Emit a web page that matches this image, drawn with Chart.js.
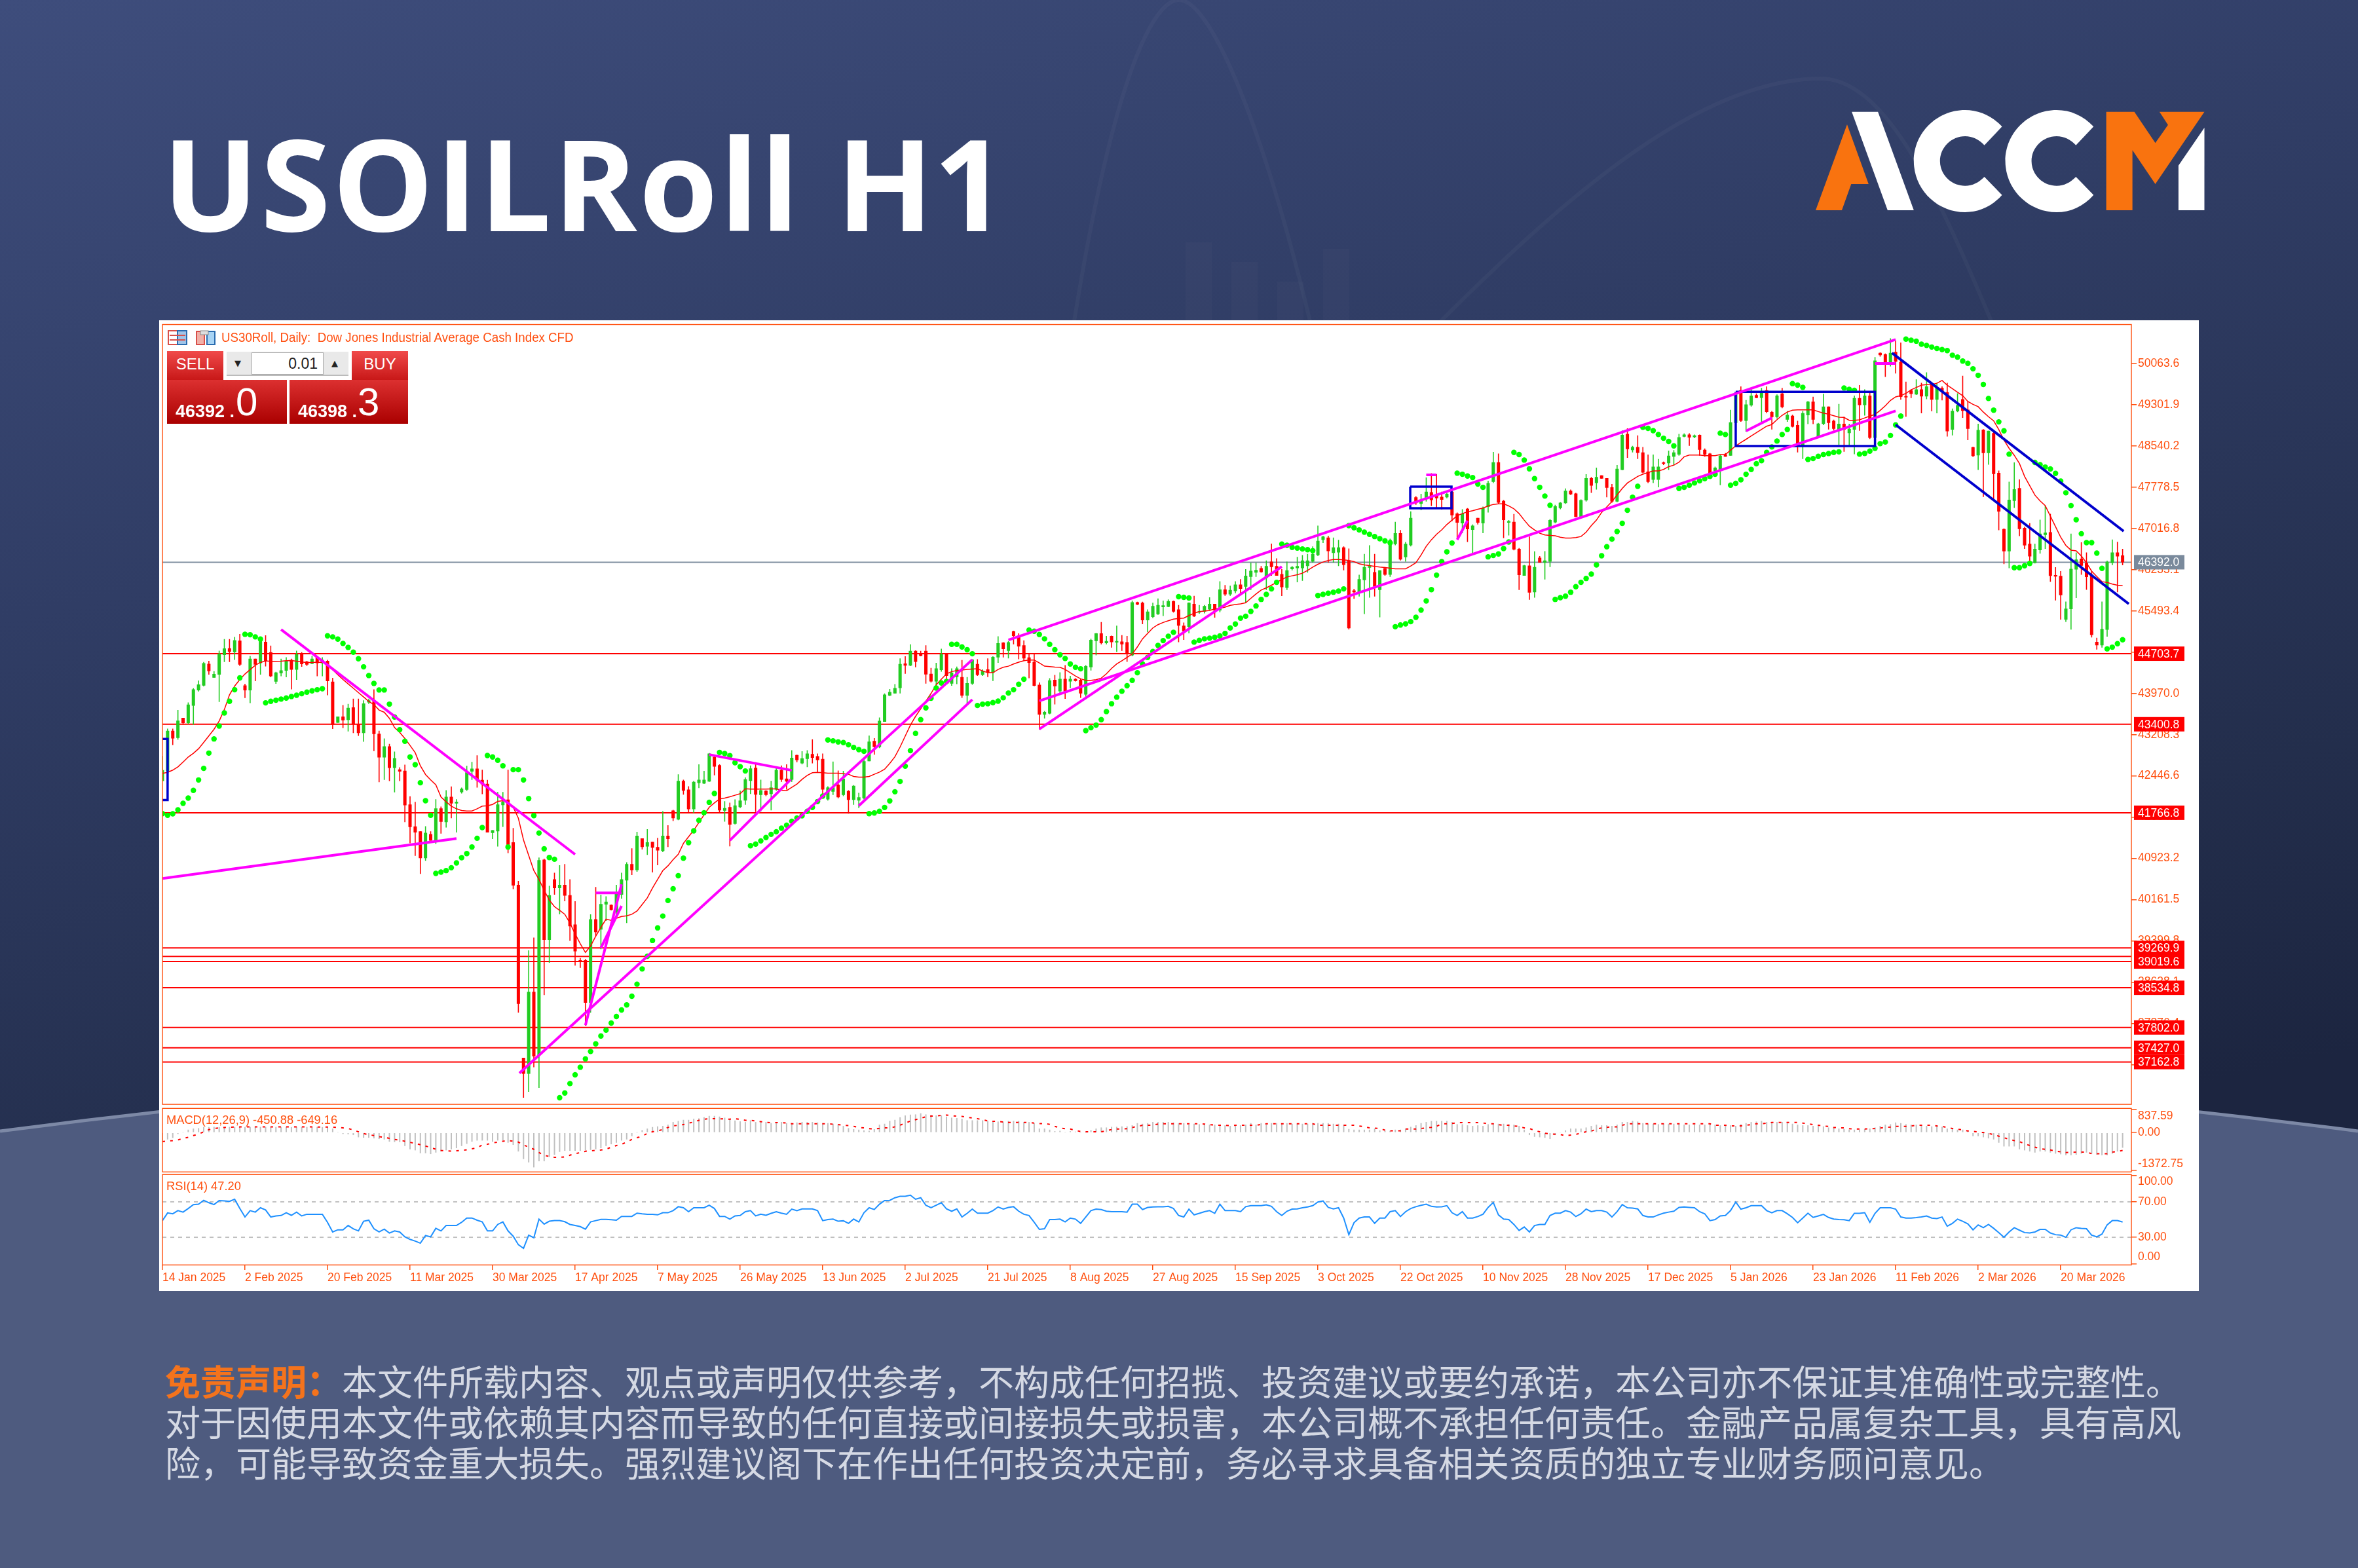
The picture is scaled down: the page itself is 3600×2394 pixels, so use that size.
<!DOCTYPE html>
<html>
<head>
<meta charset="utf-8">
<title>USOILRoll H1</title>
<script src="https://cdn.jsdelivr.net/npm/chart.js@4"></script>
<style>
  html, body { margin: 0; padding: 0; }
  #page { position: relative; width: 3600px; height: 2394px; overflow: hidden;
    background: linear-gradient(168deg, #3e4d7c 0%, #303d65 30%, #232e4c 60%, #1c2540 75%); }
  #page > * { position: absolute; }
  #title { left: 248px; top: 148px; color: #fff; font: 700 194px "Open Sans", sans-serif; letter-spacing: 3px; white-space: nowrap; line-height: 260px; }
  #title span { letter-spacing: 0; }
  #panel { left: 243px; top: 489px; width: 3114px; height: 1482px; background: #fff; }
  canvas { position: absolute; left: 243px; display: block; }
  .note { left: 252px; color: #d5d9e4; font: 54px/62px "Noto Sans CJK SC", sans-serif; white-space: nowrap; }
  .note b { color: #f4731c; font-weight: 700; }
  .red { color: #fff; background: linear-gradient(#f04a4a, #c81818); font-family: "Liberation Sans Narrow", "Liberation Sans", sans-serif; }
  .deep { background: linear-gradient(#dc3030, #aa0000); color: #fff; font-family: "Liberation Sans Narrow", "Liberation Sans", sans-serif; }
  .tab { text-align: center; font-size: 24px; line-height: 40px; box-sizing: border-box; }
  .small { position: absolute; left: 13px; top: 33px; font-size: 27px; font-weight: 700; }
  .big { position: absolute; left: 75px; top: 0px; font-size: 60px; line-height: 68px; }
  #chartTitle { left: 338px; top: 504px; color: #ff4f10; font: 19.5px/22px "Liberation Sans Narrow", "Liberation Sans", sans-serif; white-space: nowrap; transform: scaleX(0.96); transform-origin: left; }
</style>
</head>
<body>
<div id="page">
  <svg style="left:0;top:0" width="3600" height="490" fill="none" stroke="#ffffff" stroke-opacity="0.03" stroke-width="6">
    <path d="M1640,490 C1700,120 1760,0 1800,0 C1850,0 1930,200 2000,490"/>
    <path d="M2200,490 C2400,290 2600,120 2780,120 C2880,120 2960,300 3040,490"/>
    <path fill="#ffffff" fill-opacity="0.02" stroke="none" d="M1810,490V370H1850V490ZM1880,490V400H1920V490ZM1950,490V430H1990V490ZM2020,490V380H2060V490Z"/>
  </svg>
  <svg style="left:0;top:1680px" width="3600" height="714"><path d="M0,47 Q1800,-187 3600,47 L3600,714 L0,714 Z" fill="#4e5b7f"/><path d="M0,47 Q1800,-187 3600,47" fill="none" stroke="#7d89a6" stroke-width="5"/></svg>
  <div id="title">USOILRoll <span>H</span>1</div>
  <svg style="left:2740px;top:140px" width="660" height="210" viewBox="0 0 1568 630" preserveAspectRatio="none">
    <path fill="#f9730f" d="M190,150 L268,423 L205,423 L171,543 L76,543 Z"/>
    <path fill="#fff" d="M207,92 L302,92 L432,543 L337,543 Z"/>
    <path id="logoC" fill="#fff" d="M752,160 C715,110 668,84 618,84 C515,84 432,190 432,318 C432,446 515,552 618,552 C668,552 715,526 752,473 L688,390 C668,416 645,431 618,431 C568,431 527,380 527,318 C527,256 568,204 618,204 C645,204 668,219 688,245 Z"/>
    <use href="#logoC" x="332"/>
    <path fill="#f9730f" d="M1130,92 L1232,92 L1308,235 L1354,152 L1323,92 L1486,92 L1308,423 L1225,268 L1225,543 L1130,543 Z"/>
    <path fill="#fff" d="M1486,165 L1486,543 L1392,543 L1392,338 Z"/>
  </svg>
  <div id="panel"></div>
  <canvas id="mainChart" style="top:491px" width="3114" height="1199"></canvas>
  <canvas id="macdChart" style="top:1690px" width="3114" height="101"></canvas>
  <canvas id="rsiChart" style="top:1791px" width="3114" height="180"></canvas>
  <!-- terminal widgets in the corner of the chart -->
  <svg style="left:256px;top:504px" width="74" height="24">
    <rect x="1" y="1" width="28" height="21" fill="#fff" stroke="#d8504a" stroke-width="2"/><rect x="15" y="1" width="14" height="21" fill="#9fc4e8" stroke="#2a6cb0" stroke-width="2"/>
    <path d="M3,8H27M3,15H27" stroke="#d8504a" stroke-width="2"/>
    <rect x="44" y="2" width="12" height="20" fill="#f0b0a8" stroke="#d8504a" stroke-width="2"/><rect x="60" y="2" width="12" height="20" fill="#a8d4f4" stroke="#2a6cb0" stroke-width="2"/><rect x="50" y="1" width="12" height="6" fill="#ddd" stroke="#888"/>
  </svg>
  <div id="chartTitle">US30Roll, Daily:&nbsp; Dow Jones Industrial Average Cash Index CFD</div>
  <div class="red tab" style="left:255px;top:536px;width:86px;height:44px">SELL</div>
  <div class="red tab" style="left:537px;top:536px;width:86px;height:44px">BUY</div>
  <div style="left:346px;top:537px;width:186px;height:37px;background:#e9e9e9;border-bottom:2px solid #bbb;box-sizing:border-box"></div>
  <div style="left:384px;top:538px;width:110px;height:34px;background:#fff;border:1px solid #aaa;box-sizing:border-box;text-align:right;font:23px/32px 'Liberation Sans Narrow','Liberation Sans',sans-serif;padding-right:8px;color:#222">0.01</div>
  <div style="left:358px;top:548px;color:#222;font:13px/14px 'DejaVu Sans',sans-serif">▼</div>
  <div style="left:506px;top:548px;color:#222;font:13px/14px 'DejaVu Sans',sans-serif">▲</div>
  <div class="deep" style="left:255px;top:580px;width:183px;height:67px"><span class="small">46392 .</span><span class="big" style="left:105px">0</span></div>
  <div class="deep" style="left:442px;top:580px;width:181px;height:67px"><span class="small">46398 .</span><span class="big" style="left:104px">3</span></div>

  <div class="note" style="top:2077px"><b>免责声明&#xFF1A;</b>本文件所载内容、观点或声明仅供参考&#xFF0C;不构成任何招揽、投资建议或要约承诺&#xFF0C;本公司亦不保证其准确性或完整性。</div>
  <div class="note" style="top:2139px">对于因使用本文件或依赖其内容而导致的任何直接或间接损失或损害&#xFF0C;本公司概不承担任何责任。金融产品属复杂工具&#xFF0C;具有高风</div>
  <div class="note" style="top:2201px">险&#xFF0C;可能导致资金重大损失。强烈建议阁下在作出任何投资决定前&#xFF0C;务必寻求具备相关资质的独立专业财务顾问意见。</div>
</div>

<script>
// Daily candles, one value per bar
const opens = [
  42352,42534,43280,43147,43518,43421,43744,44026,44115,44518,44260,44316,44679,44804,44732,44945,44119,44026,44611,44530,
  44921,44732,44187,44340,44389,44590,44409,44703,44558,44518,44631,44530,44570,44187,43429,43542,43481,43711,43401,43239,
  43804,43824,43227,42788,42993,42594,42566,42542,41921,41513,41425,40928,41372,41251,41848,41594,42062,41937,42146,42191,
  42526,42582,42372,42300,41392,41424,41908,42009,41222,40436,37242,36947,38460,37290,40900,39420,40537,40375,40436,40246,
  39702,39045,39045,38258,39799,39609,40073,40065,39932,40254,40517,40819,40706,41295,41142,41230,41134,41061,41343,41807,
  41642,42356,42195,41832,42316,42308,42344,42800,42646,41804,41872,41562,41872,41993,42356,42598,42094,42175,42114,42195,
  42558,42396,42376,42832,42679,42759,42852,42812,42759,42013,42154,42284,42094,42167,42005,41993,42034,42719,43094,42981,
  43445,43929,43969,44070,44522,44482,44756,44703,44756,44332,44191,44401,44703,44151,44272,44272,43929,44151,44514,44312,
  44413,44353,44635,44909,44756,45119,45038,44857,44635,44554,44131,43578,43598,44219,44010,44239,44191,44239,44219,43949,
  44453,44937,45078,44897,45030,44909,44929,44917,44675,45655,45643,45320,45381,45433,45562,45570,45675,45522,45220,45199,
  45623,45462,45482,45522,45623,45502,45890,45800,45860,45980,45940,46121,46202,46283,46101,46404,46323,46174,45920,46263,
  46283,46283,46323,46404,46525,46807,46847,46565,46573,46666,46424,45871,45839,46061,46291,46210,45879,46283,46162,46726,
  46928,46484,46706,47593,47472,47573,47686,47634,47602,47593,47694,47291,47110,47380,46989,47210,47110,47412,47876,48239,
  47525,47122,47138,46638,46142,46331,45839,46476,46384,46404,47130,47392,47484,47714,47662,47230,47533,47944,47856,47997,
  47944,47775,47513,48098,48763,48461,48521,48420,48065,47916,47916,48227,48219,48340,48380,48711,48751,48702,48743,48469,
  48400,48077,48098,48380,48360,48965,49570,49005,49287,49477,49428,49570,49166,49074,49509,49025,49098,48924,48541,49106,
  49356,48703,48945,49267,49005,48841,48949,48776,48841,49424,49295,49468,48690,50258,50232,50072,50275,50094,49446,49567,
  49489,49584,49455,49697,49394,49610,49532,48841,49178,49403,49208,48517,48366,48841,48409,48776,48042,47005,46595,47524,
  47761,47027,46733,46379,46616,46897,46949,46154,46141,45333,45528,46258,46457,46379,46163,44923,44858,45147,46379,46573,46517
];
const highs = [
  42816,43320,43320,43663,43518,43804,44066,44207,44550,44570,44381,44760,44974,44974,45014,45066,44147,44663,44611,45014,
  45042,44853,44369,44611,44639,44611,44760,44732,44570,44663,44631,44639,44590,44256,43542,43756,43776,43873,43873,43844,
  43873,44046,43280,43139,43038,42897,42606,42655,42070,41969,41425,41517,41425,42017,41880,42183,42251,42017,42231,42634,
  42707,42828,42562,42372,41444,42150,42150,42562,41485,40509,37242,39226,39460,40940,40920,40416,40658,40799,40819,40537,
  40133,39085,39065,39892,40396,40255,40222,40073,40436,40658,40851,41110,41416,41295,41464,41230,41303,41795,41537,41819,
  42477,42376,42255,42356,42659,42538,42868,42840,42659,41981,41953,42013,42175,42417,42638,42699,42376,42183,42356,42598,
  42638,42659,42921,42840,42901,42921,43122,42860,42860,42255,42711,42546,42538,42183,42275,42134,42747,43191,43143,43526,
  43969,44050,44143,44615,44655,44877,44764,44756,44857,44441,44534,44796,44703,44433,44465,44586,44272,44602,44602,44413,
  44615,44655,45026,44917,44937,45127,45078,44949,44715,44695,44171,43647,44252,44312,44361,44494,44292,44252,44239,44494,
  44978,45086,45288,45030,45038,45220,45046,45030,45683,45663,45663,45522,45643,45724,45683,45704,45683,45603,45280,45651,
  45772,45603,45603,45744,45623,46040,45970,45960,46040,46080,46263,46384,46384,46323,46424,46735,46464,46263,46404,46323,
  46492,46525,46545,46686,47069,46880,46880,46847,46807,46686,46646,45900,46162,46545,46706,46545,46242,46303,46827,47138,
  46988,46767,47331,47614,47654,47956,48037,48017,47694,47674,47702,47311,47372,47392,47089,47210,47420,47896,48428,48400,
  47541,47170,47283,46654,46343,46867,46593,46505,46597,47190,47452,47501,47755,47735,47674,47553,48017,47968,48138,47997,
  47944,47835,48186,48824,48864,48541,48735,48521,48380,48380,48299,48251,48452,48461,48763,48771,48775,48751,48751,48493,
  48412,48158,48380,48408,49207,49529,49638,49388,49590,49509,49610,49638,49186,49489,49610,49186,49114,49005,49186,49368,
  49449,48965,49501,49267,49025,49316,49079,48949,49468,49662,49584,49532,50180,50267,50245,50526,50483,50448,49727,49584,
  49770,49705,49900,49705,49705,49640,49705,49230,49511,49835,49360,48526,48949,48850,48820,48820,48085,47018,47878,48236,
  47921,47048,47113,46733,47178,47437,47286,46301,46228,45666,46919,46573,46759,46573,46228,44996,45666,46422,46811,46768,46638
];
const lows = [
  42352,42493,43018,43118,43393,43401,43393,44006,44098,44316,44260,43812,44550,44550,44590,44478,43885,43792,44195,44316,
  44469,44268,44147,44288,44268,44046,44219,44461,44478,44510,44288,44288,43937,43312,43429,43332,43268,43239,43187,43078,
  43776,42905,42332,42372,42352,42142,42352,41594,41203,40969,40638,40880,41251,41190,41380,41493,41667,41404,42122,42171,
  42372,42231,42110,41404,41283,41142,41505,41021,40355,38077,36504,36613,37068,36685,38399,38996,40254,39892,40133,39400,
  38944,38903,37835,38077,39488,39246,39770,39964,39851,40182,39730,40617,40678,41089,40989,40666,40799,41041,41134,41614,
  41630,42102,41771,41763,42223,42296,42336,42457,41763,41602,41146,41550,41852,41913,42114,41779,41791,42074,41812,42175,
  42336,42195,42336,42699,42659,42610,42679,42517,42074,41993,42094,42034,42074,41751,41913,41852,42013,42719,42840,42961,
  43445,43921,43969,43969,44332,44473,44453,44655,44151,44171,44030,44373,44151,44111,44143,43889,43788,44131,44292,44292,
  44272,44199,44534,44635,44615,44877,44602,44574,44252,44102,43304,43506,43586,43768,43949,43869,44070,44191,43889,43909,
  44393,44675,44877,44877,44816,44736,44756,44554,44655,45603,45248,45099,45361,45421,45401,45562,45462,44917,44957,45078,
  45381,45441,45449,45502,45369,45470,45770,45770,45820,45820,45637,45879,46121,46202,45879,46142,46142,45767,45879,46242,
  46021,46049,46202,46384,46505,46747,46384,46384,46323,46242,45153,45718,45758,45436,45738,45758,45375,46142,46121,46706,
  46424,46404,46686,47452,47352,47513,47432,47380,47364,47573,47150,46827,46928,46767,46533,47089,46928,47311,47856,47472,
  46839,46888,46613,45879,46142,45698,45738,46384,46073,46303,47110,47372,47472,47634,47230,47230,47513,47674,47735,47936,
  47593,47493,47501,48090,48319,48420,48299,48037,47856,47856,47775,48186,48098,48178,48360,48702,48541,48682,48360,48340,
  48017,48057,47815,48340,48360,48945,48985,48803,49267,49420,48985,49146,48844,49045,49235,48985,48884,48420,48299,48944,
  48944,48682,48924,48844,48824,48560,48431,48539,48388,48820,49100,48668,48668,50189,49813,50008,49878,49394,49079,49424,
  49480,49144,49403,49178,49144,49381,48712,48733,49165,49057,48647,48336,48098,47597,48193,47545,46984,46357,46283,47394,
  46876,46638,46422,46370,46552,46638,46033,45688,45333,45290,45148,45731,46163,45882,45005,44780,44815,45018,46336,45839,46336
];
const closes = [
  42554,43280,43139,43469,43421,43764,44046,44135,44530,44381,44328,44703,44800,44740,44953,44502,44026,44611,44502,44994,
  44558,44288,44357,44397,44570,44409,44691,44510,44502,44611,44530,44590,44195,43389,43542,43473,43703,43393,43239,43784,
  43844,43219,42788,42993,42594,42776,42526,41904,41501,41404,40928,41396,41251,41848,41598,42062,41937,41969,42211,42513,
  42582,42364,42292,41404,41444,41920,41968,41122,40424,38238,36947,38460,37270,40892,39420,40246,40375,40436,40234,39670,
  39206,39020,38258,39799,39561,40081,40125,39972,40275,40537,40819,40706,41343,41134,41222,41122,41069,41343,41283,41666,
  42356,42175,41832,42336,42376,42376,42860,42618,41812,41852,41549,41900,41993,42384,42586,42102,42183,42094,42235,42558,
  42376,42344,42780,42739,42772,42860,42780,42739,42195,42235,42235,42054,42396,42005,42263,42054,42719,43082,42981,43465,
  43949,43998,44070,44514,44482,44756,44554,44663,44320,44191,44433,44695,44292,44353,44433,43929,44159,44594,44312,44385,
  44353,44643,44897,44788,44917,45030,44836,44615,44534,44111,43578,43627,44211,44102,44239,44010,44239,44199,43969,44473,
  44957,45078,44897,44937,44917,44937,44877,44695,45655,45611,45320,45482,45583,45603,45595,45675,45482,45220,45119,45643,
  45393,45482,45583,45623,45502,45890,45800,45880,45980,45900,46142,46234,46250,46210,46323,46303,46142,45932,46242,46303,
  46323,46424,46424,46545,46787,46867,46597,46666,46666,46343,45174,45839,46081,46303,46323,45940,46242,46162,46807,46928,
  46444,46734,47210,47484,47533,47694,47541,47573,47545,47654,47259,47122,47291,47001,47069,47122,47392,47856,48239,47493,
  47170,47150,46626,46154,46335,45831,46303,46384,46424,47170,47424,47493,47714,47646,47230,47541,47944,47807,47968,47936,
  47767,47513,48118,48743,48481,48521,48412,48049,47876,48158,48158,48210,48360,48420,48702,48751,48694,48735,48469,48380,
  48037,48138,48360,48340,48977,49489,49005,49307,49469,49428,49549,49166,49074,49469,49259,49114,48896,48541,49146,49356,
  49025,48953,49267,48965,48856,48949,48841,48854,49424,49295,49468,48690,50116,50215,50059,50258,50094,49446,49437,49498,
  49584,49455,49640,49394,49619,49554,48811,49187,49295,49187,48854,48353,48833,48409,48820,48020,47329,46595,47545,47740,
  47005,46703,46500,46638,46919,46940,46141,46128,45783,45536,46271,46444,46327,46120,45048,44858,45160,46400,46573,46500,46392
];
// Parabolic SAR dots
const sar = [
  41750,41719,41747,41820,41941,42037,42179,42372,42586,42868,43130,43368,43610,43824,44038,44256,45062,45054,45014,44974,
  43796,43824,43844,43865,43885,43913,43937,43965,43993,44018,44038,44058,45034,45014,44974,44893,44820,44732,44611,44461,
  44300,44155,44034,44034,43772,43534,43300,43086,42796,42654,42320,41989,41719,40646,40670,40699,40751,40840,40937,41013,
  41134,41295,41493,42824,42796,42735,42634,41134,42562,42562,42372,42029,41714,41392,41101,40940,40908,36504,36593,36766,
  36927,37068,37222,37359,37500,37645,37754,37883,38004,38125,38218,38379,38601,38883,39117,39408,39641,39859,40146,40363,
  40605,40928,41214,41432,41626,41767,41960,42122,42880,42860,42820,42691,42618,42538,41158,41187,41247,41308,41368,41416,
  41481,41537,41610,41670,41711,41792,41864,41973,42074,43110,43094,43074,43062,43022,42973,42933,42901,41751,41763,41792,
  41864,41985,42154,42344,42626,42913,43231,43485,43703,43881,44070,44163,44191,44877,44877,44828,44776,44703,43747,43772,
  43780,43800,43828,43889,43977,44038,44139,44232,45139,45119,45058,44978,44877,44776,44683,44615,44514,44453,44425,43284,
  43336,43385,43485,43635,43780,43901,44010,44111,44211,44352,44514,44635,44744,44857,44945,45026,45099,45756,45744,45732,
  44917,44949,44978,44990,45006,45030,45078,45179,45252,45361,45395,45484,45585,45706,45799,45900,46021,46726,46706,46666,
  46654,46638,46625,46605,45778,45799,45819,45839,45859,45900,47069,47029,46989,46948,46908,46867,46827,46787,46750,45202,
  45234,45254,45295,45375,45508,45678,45887,46154,46404,46585,46747,48037,48017,47985,47956,47835,47775,46492,46517,46545,
  46646,46767,48420,48380,48279,48118,47936,47775,47614,47444,45706,45738,45766,45839,45940,46021,46093,46174,46343,46513,
  46678,46819,46960,47110,47351,47593,47795,48884,48864,48823,48751,48682,48622,48541,47755,47775,47815,47856,47896,47936,
  47977,48017,48775,48751,47815,47848,47916,48017,48106,48211,48267,48420,48521,48630,48751,48844,49691,49662,49622,48291,
  48307,48348,48380,48400,48420,48431,49610,49584,49567,48388,48401,48444,48496,48582,48612,48733,48928,49092,50513,50491,
  50474,50418,50396,50366,50340,50319,50301,50215,50180,50107,50064,49964,49843,49675,49416,49200,48984,48820,48388,46292,
  46292,46327,46370,48236,48193,48150,48115,48033,47891,47675,47437,47178,46919,46755,46755,46560,46279,44793,44824,44888,44962
];
// Moving average (thin red line)
const movingAvg = [
  42493,42513,42554,42614,42703,42796,42864,42949,43066,43187,43308,43461,43671,43945,44106,44227,44328,44409,44490,44542,
  44570,44562,44562,44566,44574,44578,44566,44550,44542,44542,44546,44542,44518,44409,44316,44227,44147,44066,43985,43905,
  43824,43764,43663,43622,43510,43340,43251,43139,43010,42876,42634,42473,42372,42284,42058,41969,41888,41840,41808,41800,
  41800,41840,41888,41896,41920,41977,41989,41969,41868,41666,41263,40980,40698,40537,40335,40154,40033,39964,39892,39730,
  39529,39347,39186,39307,39488,39649,39803,39779,39819,39851,39863,39892,39952,40073,40194,40375,40537,40698,40787,40900,
  41001,41202,41323,41444,41585,41727,41868,41948,42021,42037,42061,42090,42118,42211,42203,42203,42203,42203,42207,42207,
  42183,42175,42235,42296,42384,42457,42505,42513,42505,42497,42497,42497,42489,42477,42437,42425,42425,42437,42477,42517,
  42570,42679,42800,42981,43183,43385,43546,43687,43828,43969,44131,44232,44332,44373,44393,44401,44413,44421,44425,44385,
  44352,44352,44413,44453,44473,44514,44546,44574,44586,44586,44534,44473,44465,44457,44453,44413,44352,44292,44240,44211,
  44211,44223,44252,44332,44433,44514,44574,44635,44695,44828,44978,45078,45179,45240,45280,45312,45341,45353,45361,45409,
  45449,45482,45490,45502,45530,45542,45562,45595,45611,45623,45645,45726,45807,45879,45920,45968,46021,46073,46121,46142,
  46162,46190,46242,46303,46355,46396,46424,46444,46444,46436,46424,46404,46363,46343,46331,46315,46303,46295,46283,46271,
  46271,46271,46323,46384,46525,46686,46807,46908,46989,47089,47170,47251,47291,47323,47343,47372,47392,47432,47460,47472,
  47472,47432,47380,47291,47170,47057,46989,46928,46896,46888,46880,46855,46839,46839,46847,46867,46948,47069,47170,47311,
  47412,47513,47634,47755,47856,47916,47977,48017,48049,48077,48077,48106,48158,48186,48239,48340,48372,48372,48372,48360,
  48360,48360,48380,48380,48461,48541,48602,48662,48723,48783,48844,48904,48936,49025,49106,49166,49199,49207,49207,49207,
  49207,49174,49146,49126,49098,49070,49066,49014,49014,49023,49057,49092,49122,49195,49282,49381,49446,49468,49511,49576,
  49619,49662,49671,49675,49697,49748,49662,49597,49532,49468,49360,49308,49265,49165,49079,49005,48841,48647,48496,48366,
  48215,47977,47804,47632,47524,47437,47243,47048,46854,46703,46616,46603,46508,46379,46228,46128,46033,46020,45990,45968,45960
];
// MACD histogram and signal line
const macdHist = [
  -289,-249,-194,-51,28,107,147,162,202,202,210,202,205,208,205,202,200,205,210,208,
  205,202,205,208,205,202,205,208,205,202,205,202,200,147,28,-51,-59,-91,-170,-186,
  -186,-210,-234,-249,-329,-345,-345,-487,-606,-645,-748,-748,-780,-725,-685,-645,-606,-566,-487,-408,
  -329,-289,-289,-289,-329,-289,-289,-368,-447,-685,-962,-1081,-1263,-1041,-1041,-883,-804,-701,-661,-661,
  -661,-661,-645,-630,-606,-566,-487,-424,-368,-289,-249,-131,4,91,147,202,226,242,289,384,
  424,463,463,503,519,558,606,606,582,540,500,440,408,384,447,384,384,384,345,384,
  384,345,345,368,384,384,384,368,345,345,321,289,242,162,123,107,83,67,123,289,
  321,424,463,558,622,653,661,701,661,638,622,622,582,542,527,503,447,447,447,447,
  424,424,400,400,424,424,424,384,384,345,147,147,107,51,67,28,51,36,4,-12,
  91,147,186,186,210,210,226,226,265,345,321,345,384,384,384,384,368,345,345,289,
  321,305,289,289,289,265,265,242,242,265,289,345,289,345,305,345,345,321,345,321,
  321,321,321,345,345,345,345,321,321,289,131,107,107,107,107,147,83,67,67,107,
  107,147,210,265,345,384,424,424,424,424,384,305,305,265,242,265,242,305,321,321,
  321,305,289,242,107,-91,-154,-170,-186,-234,-91,-12,83,147,147,147,186,242,289,265,
  265,242,289,384,384,424,400,345,321,321,305,321,321,321,321,289,289,289,289,289,
  305,289,265,242,265,242,305,345,384,400,424,384,368,384,384,345,321,289,265,265,
  242,242,226,186,186,147,131,107,107,107,131,147,186,242,289,305,368,345,305,289,
  289,265,242,226,226,210,147,147,107,107,67,-131,-131,-170,-210,-249,-368,-503,-503,-503,
  -606,-645,-685,-725,-685,-685,-725,-764,-788,-820,-820,-804,-764,-725,-764,-804,-820,-820,-764,-685,-550
];
const macdSignal = [
  -329,-305,-289,-266,-210,-170,-107,-51,28,107,147,170,186,194,202,205,205,205,205,205,
  205,205,205,205,205,205,205,205,205,205,205,202,200,194,186,170,147,99,28,-36,
  -75,-107,-147,-170,-210,-249,-273,-313,-352,-392,-440,-487,-543,-606,-645,-661,-669,-661,-645,-622,
  -590,-550,-447,-424,-376,-345,-313,-289,-313,-345,-447,-527,-606,-725,-820,-867,-899,-899,-883,-820,
  -764,-725,-677,-661,-645,-630,-606,-527,-471,-424,-345,-249,-186,-131,-28,28,67,107,186,242,
  265,289,345,384,447,487,503,503,503,495,487,503,480,447,447,420,400,372,360,360,
  360,345,321,321,321,321,321,321,321,321,305,289,265,255,226,190,170,140,131,150,
  170,170,210,270,340,420,470,520,575,598,598,630,638,610,598,590,558,530,503,470,
  420,408,408,385,368,368,368,368,368,345,329,329,300,226,170,140,131,80,40,28,
  28,28,28,70,110,131,131,140,185,226,265,265,265,310,321,321,321,321,321,321,
  321,321,310,289,275,265,265,255,265,265,265,265,265,300,321,321,321,321,321,321,
  321,321,321,321,265,265,265,265,265,265,265,265,240,210,170,160,147,90,67,67,
  67,131,131,131,150,170,190,226,321,321,330,360,360,360,360,360,350,321,321,290,
  265,265,240,226,170,147,80,28,-20,-51,-60,-67,-115,-90,-67,-12,30,51,131,170,
  190,210,210,265,321,321,321,321,321,321,321,321,321,321,321,321,321,321,321,321,
  321,265,265,265,242,242,242,265,289,321,321,345,368,368,368,368,368,368,345,321,
  289,265,240,226,186,175,170,140,131,131,131,140,147,165,186,200,226,226,226,240,
  265,265,265,265,242,226,180,150,120,100,60,44,20,4,-30,-70,-130,-186,-240,-290,
  -329,-400,-470,-527,-582,-610,-630,-669,-700,-725,-715,-709,-709,-709,-764,-764,-764,-764,-709,-680,-649
];
const rsi = [
  48.8,57.5,56.5,60.1,58.4,62.5,66.9,67.3,71.7,69.0,66.9,71.4,71.0,70.5,72.9,62.5,52.9,60.1,58.4,63.3,
  60.8,52.9,54.1,54.6,57.7,54.8,58.4,54.1,56.0,56.0,56.0,56.0,46.9,36.0,38.4,38.4,43.3,39.6,37.2,48.1,
  49.3,39.6,36.0,39.2,34.8,37.2,36.0,30.5,27.6,25.7,23.3,31.9,30.5,40.1,37.2,43.3,43.3,43.3,46.9,51.7,
  51.7,49.3,47.3,37.2,37.2,44.5,47.3,37.2,31.2,21.6,17.5,32.4,29.5,50.5,44.9,48.1,48.8,48.8,47.6,44.5,
  43.3,42.0,39.2,47.3,48.8,50.2,50.2,49.8,49.3,53.6,53.6,53.6,57.2,56.5,56.0,56.0,55.3,57.7,57.7,60.1,
  64.5,63.3,58.9,63.3,63.3,63.3,66.1,62.5,53.6,53.6,50.5,54.1,54.6,58.9,60.1,54.1,56.0,54.8,57.0,58.9,
  57.2,56.0,61.8,60.1,62.0,62.0,62.0,60.1,48.8,50.0,50.5,48.1,48.6,45.7,50.5,47.3,57.7,63.3,61.3,67.3,
  71.4,71.7,74.6,76.3,76.3,77.5,72.9,74.6,66.1,63.3,66.1,69.0,62.0,59.4,62.0,52.9,57.0,61.8,57.2,57.2,
  57.2,60.1,64.2,61.8,63.7,64.5,59.4,56.0,54.6,46.9,38.9,39.6,50.0,50.0,50.5,47.3,51.7,50.5,45.7,52.9,
  60.1,61.8,61.3,59.4,58.9,58.9,58.9,58.4,67.3,67.3,61.3,63.7,64.2,64.5,64.5,64.9,62.5,54.6,52.9,61.8,
  55.3,57.0,58.9,60.1,57.0,67.3,60.1,60.1,60.1,58.9,64.5,65.7,65.7,65.7,66.6,64.9,58.9,54.6,59.4,61.8,
  62.0,63.3,64.2,65.7,69.8,71.0,63.7,62.0,63.3,51.7,32.9,46.4,51.7,52.9,52.9,45.7,51.7,51.7,58.9,60.1,
  53.4,58.9,62.5,64.5,66.1,67.3,64.9,64.2,64.5,65.7,57.7,54.6,58.9,51.7,51.7,53.4,56.0,63.7,69.3,55.3,
  50.5,50.0,44.5,37.7,41.6,36.0,43.3,44.5,44.5,54.6,57.2,57.2,60.1,58.4,53.4,56.5,61.8,58.9,60.1,60.1,
  58.4,52.9,58.9,66.9,63.3,63.0,62.0,54.6,52.9,52.9,55.3,57.2,58.4,59.4,63.7,64.2,63.7,63.3,58.9,56.5,
  48.8,50.0,54.1,54.6,60.1,69.8,61.8,63.3,65.7,65.7,65.7,60.1,57.7,60.1,60.1,56.5,52.4,46.4,51.7,57.2,
  52.4,54.1,55.8,52.4,50.5,50.0,49.8,48.8,57.0,57.0,57.7,46.9,57.0,63.3,63.3,63.3,61.8,52.9,51.7,51.7,
  52.2,52.9,54.1,51.7,51.2,52.9,42.5,45.7,50.5,48.1,45.2,38.4,44.0,40.8,44.5,40.1,35.3,30.0,36.0,40.8,
  38.0,35.3,34.8,36.0,38.9,38.9,34.8,32.9,32.4,30.0,38.4,40.8,40.1,39.6,32.4,30.5,33.6,44.0,48.8,48.8,47.2
];

// One date label every 16 bars
const dateLabels = ['14 Jan 2025','2 Feb 2025','20 Feb 2025','11 Mar 2025','30 Mar 2025','17 Apr 2025','7 May 2025','26 May 2025',
  '13 Jun 2025','2 Jul 2025','21 Jul 2025','8 Aug 2025','27 Aug 2025','15 Sep 2025','3 Oct 2025','22 Oct 2025','10 Nov 2025',
  '28 Nov 2025','17 Dec 2025','5 Jan 2026','23 Jan 2026','11 Feb 2026','2 Mar 2026','20 Mar 2026'];
const priceTicks = [50063.6,49301.9,48540.2,47778.5,47016.8,46255.1,45493.4,44731.7,43970.0,43208.3,42446.6,41684.9,40923.2,40161.5,39399.8,38638.1,37876.4,37114.7];
const levels = [44703.7,43400.8,41766.8,39269.9,39019.6,38534.8,37802.0,37427.0,37162.8];
const hiddenLevel = 39115.0; // its tag text is covered by its neighbours
const lastPrice = 46392.0;
const macdTicks = [837.59,0,-1372.75];
const rsiTicks = [100,70,30,0];

// Drawn lines: from bar, from price, to bar, to price
const magentaLines = [
  [23,45151,80,40997],[0,40553,57,41291],[69.2,36959,157,44594],[110,41255,121.8,42380],[106,42840,122,42550],
  [135,41896,157,43856],[164,44957,336,50504],[170,43832,336,49186],[170,43312,217,46312],[82,37843,89,40444],
  [84,40287,89,40287],[85,39271,89,40045],[245,48007,247,48007],[251,46809,253,47160],[307,48817,312,49059],[332,50063,336,50063]
];
const blueLines = [[335.3,50257,380.2,46966],[336,48931,381.2,45623]];
// Boxes: left bar, top price, right bar, bottom price
const blueBoxes = [[-2,43130,1,42000],[241.9,47789,249.9,47390],[305,49540,332,48539]];

const xMax = 381.7;
const orange = '#ff4f0e';
const axisFont = { family: '"Liberation Sans", sans-serif', size: 17.5 };
const barIndex = opens.map((o, i) => i);
const candleColors = closes.map((c, i) => c >= opens[i] ? '#22cc22' : '#ff0000');

function segment(x0, y0, x1, y1, color, width, order, dash) {
  return { type: 'line', data: [{ x: x0, y: y0 }, { x: x1, y: y1 }], borderColor: color, borderWidth: width,
    borderDash: dash || [], pointRadius: 0, order: order, tension: 0 };
}
function box(l, t, r, b, color, width, order) {
  return { type: 'line', data: [{ x: l, y: t }, { x: r, y: t }, { x: r, y: b }, { x: l, y: b }, { x: l, y: t }],
    borderColor: color, borderWidth: width, pointRadius: 0, order: order, tension: 0 };
}

// Orange frame round the pane
const paneFrame = {
  id: 'paneFrame',
  afterDatasetsDraw(chart) {
    const { ctx, chartArea: a } = chart;
    ctx.save();
    ctx.strokeStyle = orange;
    ctx.lineWidth = 1.4;
    ctx.strokeRect(a.left, a.top + 0.3, a.right - a.left, a.bottom - a.top);
    ctx.restore();
  }
};

// Price tags on the right of the main pane
const priceTags = {
  id: 'priceTags',
  afterDraw(chart) {
    const { ctx, chartArea: a, scales } = chart;
    ctx.save();
    ctx.font = '17.5px "Liberation Sans", sans-serif';
    ctx.textBaseline = 'middle';
    ctx.textAlign = 'left';
    const tag = (value, fill, text) => {
      const y = scales.y.getPixelForValue(value);
      ctx.fillStyle = fill;
      ctx.fillRect(a.right + 4, y - 11, 77, 22);
      if (text) {
        ctx.fillStyle = '#fff';
        ctx.fillText(text, a.right + 10, y + 1);
      }
    };
    tag(lastPrice, '#7a8a9c', lastPrice.toFixed(1));
    tag(hiddenLevel, '#ff0000');
    levels.forEach(v => tag(v, '#ff0000', v.toFixed(1)));
    ctx.restore();
  }
};

// Pane caption and the sub-window axis labels, which sit off their tick at the ends
const paneText = {
  id: 'paneText',
  afterDraw(chart, args, opts) {
    const { ctx, chartArea: a, scales } = chart;
    ctx.save();
    ctx.font = '18.3px "Liberation Sans", sans-serif';
    ctx.fillStyle = orange;
    ctx.textBaseline = 'middle';
    ctx.textAlign = 'left';
    ctx.fillText(opts.caption, a.left + 6, a.top + 19);
    ctx.font = '17.5px "Liberation Sans", sans-serif';
    opts.ticks.forEach((value, i) => {
      const last = opts.ticks.length - 1;
      const shift = i === 0 ? 10 : (i === last ? -10 : 0);
      ctx.fillText(opts.format(value), a.right + 10, scales.y.getPixelForValue(value) + shift);
    });
    ctx.restore();
  }
};

function xScale(showLabels) {
  return {
    type: 'linear', min: 0, max: xMax, offset: false, display: showLabels,
    afterBuildTicks(scale) { scale.ticks = dateLabels.map((d, i) => ({ value: i * 16 })); },
    afterFit(scale) { if (showLabels) scale.height = 40; scale.paddingLeft = 0; scale.paddingRight = 0; },
    grid: { drawOnChartArea: false, drawTicks: true, tickLength: 8, color: orange, lineWidth: 1.5, offset: false },
    border: { display: false },
    ticks: {
      autoSkip: false, maxRotation: 0, minRotation: 0, align: 'start', padding: 2, color: orange, font: axisFont,
      callback: value => dateLabels[value / 16]
    }
  };
}
function yScale(min, max, tickValues, native) {
  return {
    position: 'right', min: min, max: max,
    afterBuildTicks(scale) { scale.ticks = tickValues.map(v => ({ value: v })); },
    afterFit(scale) { scale.width = 103; scale.paddingTop = 0; scale.paddingBottom = 0; },
    grid: { drawOnChartArea: false, drawTicks: true, tickLength: 8, color: orange, lineWidth: 1.5 },
    border: { display: false },
    ticks: { display: native, padding: 2, color: orange, font: axisFont, autoSkip: false, callback: v => Number(v).toFixed(1) }
  };
}
function baseOptions(scales, padding, plugins) {
  return {
    responsive: false, animation: false, devicePixelRatio: 1,
    layout: { padding: padding },
    scales: scales,
    plugins: Object.assign({ legend: { display: false }, tooltip: { enabled: false } }, plugins)
  };
}

// Main pane: candles as floating bars, wick under body
const mainDatasets = [
  ...magentaLines.map(l => segment(l[0], l[1], l[2], l[3], '#ff00ff', 4, 1)),
  ...blueLines.map(l => segment(l[0], l[1], l[2], l[3], '#0000cd', 4, 1)),
  ...blueBoxes.map(b => box(b[0], b[1], b[2], b[3], '#0000cd', 3.5, 1)),
  { type: 'line', data: barIndex.map(i => ({ x: i, y: sar[i] })), showLine: false, pointRadius: 4.2, pointBorderWidth: 0,
    pointBackgroundColor: '#00ff00', order: 2 },
  { type: 'line', data: barIndex.map(i => ({ x: i, y: movingAvg[i] })), borderColor: '#ff0000', borderWidth: 1.5, pointRadius: 0, order: 3, tension: 0 },
  { type: 'bar', data: barIndex.map(i => ({ x: i, y: [opens[i], closes[i]] })), backgroundColor: candleColors, grouped: false, maxBarThickness: 5, minBarLength: 2, order: 4 },
  { type: 'bar', data: barIndex.map(i => ({ x: i, y: [lows[i], highs[i]] })), backgroundColor: candleColors, grouped: false, maxBarThickness: 1.6, order: 5 },
  segment(0, lastPrice, xMax, lastPrice, '#8090a0', 2, 6),
  ...levels.concat(hiddenLevel).map(v => segment(0, v, xMax, v, '#ff0000', 2, 7))
];
new Chart(document.getElementById('mainChart'), {
  type: 'bar',
  data: { datasets: mainDatasets },
  options: baseOptions(
    { x: xScale(false), y: yScale(36386, 50785, priceTicks, true) },
    { left: 5, top: 2, bottom: 2, right: 0 },
    {}
  ),
  plugins: [paneFrame, priceTags]
});

// MACD pane
new Chart(document.getElementById('macdChart'), {
  type: 'bar',
  data: { datasets: [
    { type: 'line', data: barIndex.map(i => ({ x: i, y: macdSignal[i] })), borderColor: '#ff0000', borderWidth: 2, borderDash: [4, 8], pointRadius: 0, order: 1, tension: 0 },
    { type: 'bar', data: barIndex.map(i => ({ x: i, y: macdHist[i] })), backgroundColor: '#c0c0c0', grouped: false, maxBarThickness: 2, order: 2 }
  ] },
  options: baseOptions(
    { x: xScale(false), y: yScale(-1420, 885, macdTicks, false) },
    { left: 5, top: 2, bottom: 2, right: 0 },
    { paneText: { caption: 'MACD(12,26,9) -450.88 -649.16', ticks: macdTicks, format: v => v.toFixed(2) } }
  ),
  plugins: [paneFrame, paneText]
});

// RSI pane with the date axis under it
new Chart(document.getElementById('rsiChart'), {
  type: 'bar',
  data: { datasets: [
    { type: 'line', data: barIndex.map(i => ({ x: i, y: rsi[i] })), borderColor: '#1e90ff', borderWidth: 2, pointRadius: 0, order: 1, tension: 0 },
    segment(0, 70, xMax, 70, '#c0c0c0', 2, 2, [6, 6]),
    segment(0, 30, xMax, 30, '#c0c0c0', 2, 2, [6, 6])
  ] },
  options: baseOptions(
    { x: xScale(true), y: yScale(-1, 101, rsiTicks, false) },
    { left: 5, top: 2, bottom: 0, right: 0 },
    { paneText: { caption: 'RSI(14) 47.20', ticks: rsiTicks, format: v => v.toFixed(2) } }
  ),
  plugins: [paneFrame, paneText]
});
</script>
</body>
</html>
